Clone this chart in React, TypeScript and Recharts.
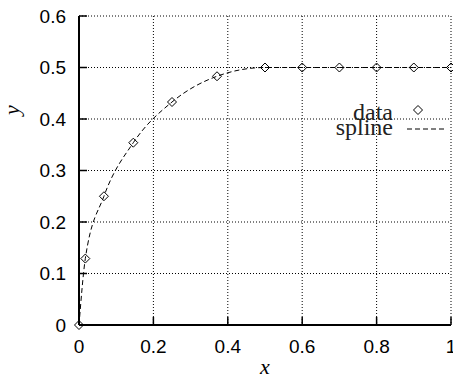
import { ComposedChart, Line, Scatter, XAxis, YAxis, CartesianGrid, Legend } from 'recharts';

const xValues = [0, 0.017, 0.067, 0.146, 0.25, 0.371, 0.5, 0.6, 0.7, 0.8, 0.9, 1.0];
const yValues = [0, 0.129, 0.25, 0.354, 0.433, 0.483, 0.5, 0.5, 0.5, 0.5, 0.5, 0.5];
const xTicks = [0, 0.2, 0.4, 0.6, 0.8, 1];
const yTicks = [0, 0.1, 0.2, 0.3, 0.4, 0.5, 0.6];

const points = xValues.map((x, i) => ({ x, y: yValues[i] }));

const tickFont = { fontFamily: '"Liberation Sans", Arial, sans-serif', fontSize: 19, fill: '#000' };
const tickLine = { stroke: '#000', strokeWidth: 1.5 };
const axisLine = { stroke: '#000', strokeWidth: 2 };
const hidden = () => <g />;

const Diamond = (props: any) => {
  const { cx, cy } = props;
  const r = 4.5;
  return <path d={`M${cx},${cy - r}L${cx + r},${cy}L${cx},${cy + r}L${cx - r},${cy}Z`} fill="none" stroke="#000" strokeWidth={1} />;
};

// gnuplot-style key: text right-aligned, sample to the right
const LegendBox = (props: any) => {
  const names: string[] = (props.payload || []).map((p: any) => p.value);
  const dataName = names.find((n) => n === 'data') || 'data';
  const splineName = names.find((n) => n === 'spline') || 'spline';
  return (
    <svg width={123} height={50} style={{ display: 'block', overflow: 'visible' }}>
      <g fontFamily='"Liberation Serif", "Times New Roman", serif' fontSize={24} fill="#222">
        <text x={63} y={25} textAnchor="end">{dataName}</text>
        <text x={63} y={40} textAnchor="end">{splineName}</text>
      </g>
      <path d="M88,10.5L92.5,15L88,19.5L83.5,15Z" fill="none" stroke="#000" strokeWidth={1} />
      <line x1={77} x2={115} y1={34} y2={34} stroke="#000" strokeWidth={1} strokeDasharray="5 3" />
    </svg>
  );
};

export default function App() {
  return (
    <div style={{ position: 'absolute', left: 0, top: 0, width: 453, height: 379, background: '#fff' }}>
      <ComposedChart width={453} height={379} data={points} margin={{ top: 16, right: 2, left: 19, bottom: 24 }}>
        <CartesianGrid stroke="#000" strokeWidth={1} strokeDasharray="1 2" />
        <XAxis
          dataKey="x"
          type="number"
          domain={[0, 1]}
          ticks={xTicks}
          interval={0}
          height={30}
          tickSize={-8}
          tickMargin={23}
          tick={tickFont}
          tickLine={tickLine}
          axisLine={axisLine}
          label={{ value: 'x', position: 'bottom', offset: 3, fontFamily: '"Liberation Serif", serif', fontStyle: 'italic', fontSize: 22, fill: '#000' }}
        />
        <XAxis
          xAxisId="top"
          orientation="top"
          type="number"
          domain={[0, 1]}
          ticks={xTicks}
          interval={0}
          height={0}
          tickSize={-8}
          tick={hidden}
          tickLine={tickLine}
          axisLine={axisLine}
        />
        <YAxis
          type="number"
          domain={[0, 0.6]}
          ticks={yTicks}
          interval={0}
          width={60}
          tickSize={-8}
          tickMargin={21}
          tick={tickFont}
          tickLine={tickLine}
          axisLine={axisLine}
          label={{
            content: () => (
              <text x={19} y={110} transform="rotate(-90 19 110)" textAnchor="middle" fontFamily='"Liberation Serif", serif' fontStyle="italic" fontSize={22} fill="#000">
                y
              </text>
            ),
          }}
        />
        <YAxis
          yAxisId="right"
          orientation="right"
          type="number"
          domain={[0, 0.6]}
          ticks={yTicks}
          interval={0}
          width={0}
          tickSize={-8}
          tick={hidden}
          tickLine={tickLine}
          axisLine={axisLine}
        />
        <Legend
          layout="horizontal"
          verticalAlign="middle"
          align="center"
          content={<LegendBox />}
          wrapperStyle={{ left: 330, top: 95, width: 123, height: 50 }}
        />
        <Line
          name="spline"
          dataKey="y"
          type="monotone"
          stroke="#000"
          strokeWidth={1}
          strokeDasharray="5 3"
          dot={false}
          activeDot={false}
          isAnimationActive={false}
        />
        <Scatter name="data" data={points} dataKey="y" shape={<Diamond />} isAnimationActive={false} />
      </ComposedChart>
    </div>
  );
}
